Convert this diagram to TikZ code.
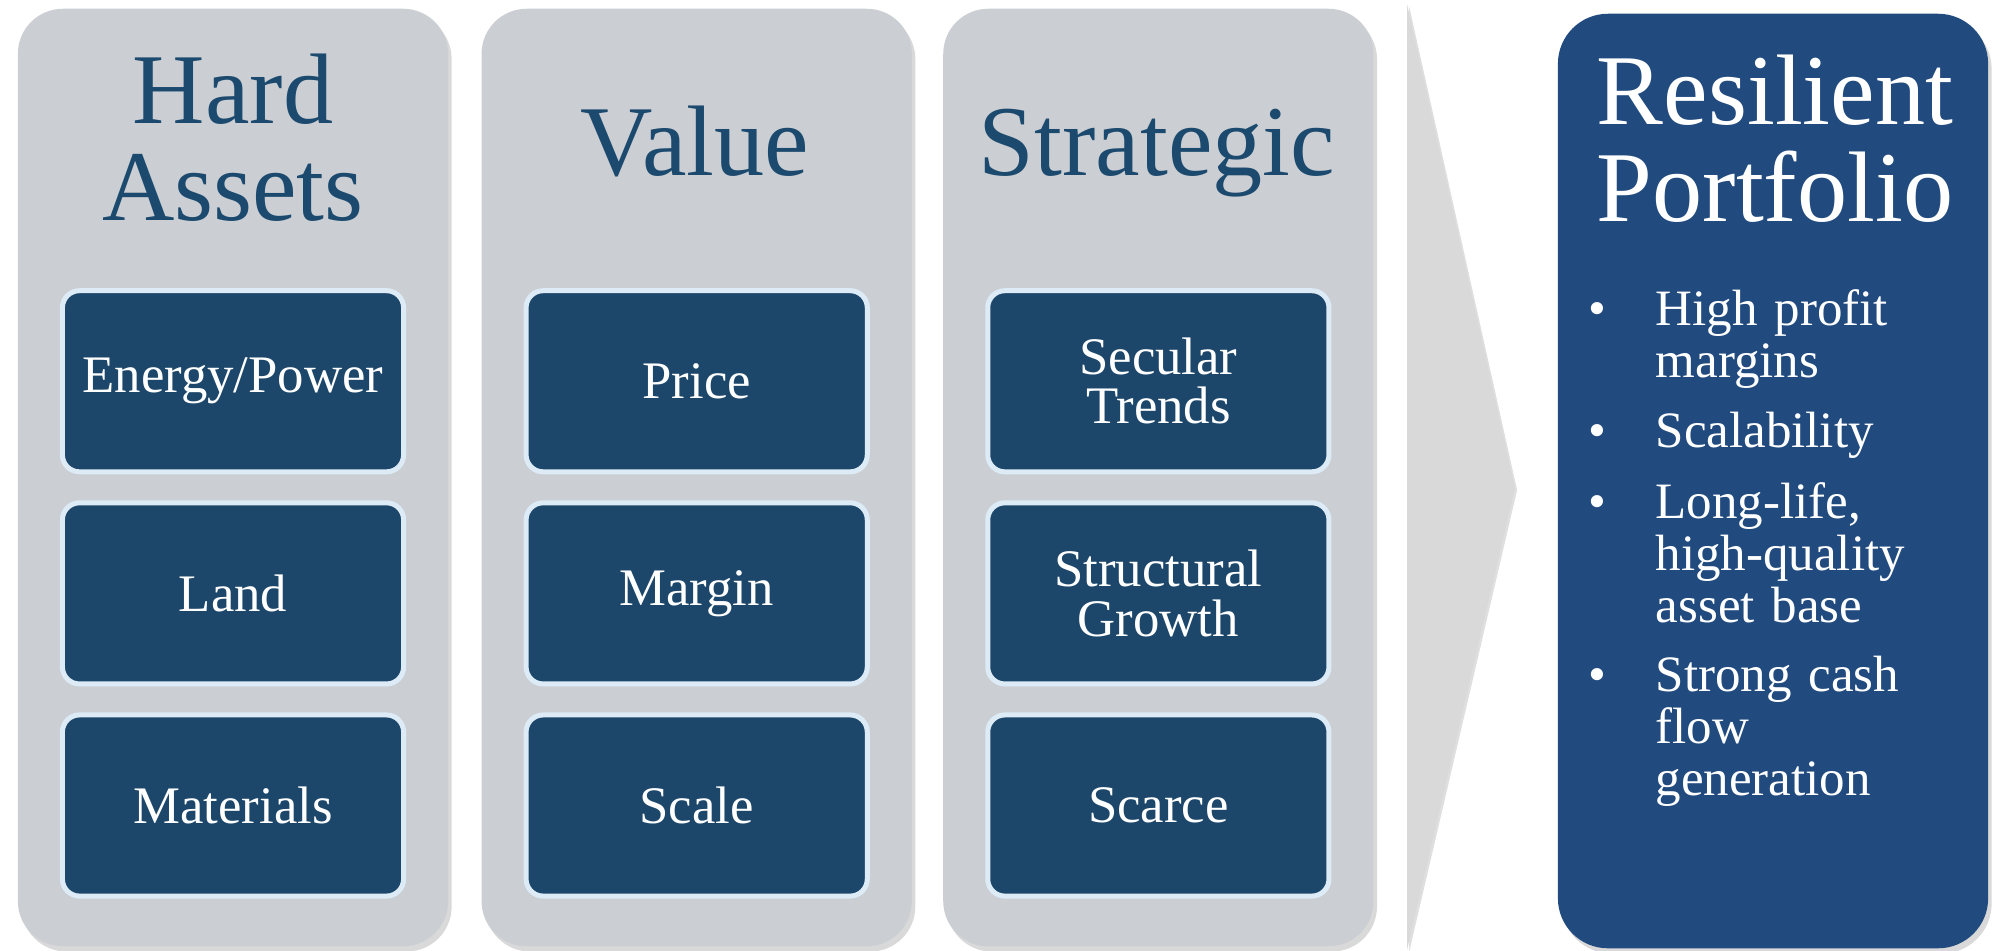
\documentclass[tikz,border=0pt]{standalone}
\usepackage{fontspec}
\setmainfont{Liberation Serif}
\usetikzlibrary{positioning, shadows}
\definecolor{colgray}{HTML}{CBCED3}
\definecolor{tilefill}{HTML}{1C476A}
\definecolor{tileline}{HTML}{DDEBF7}
\definecolor{headblue}{HTML}{1C4A6E}
\definecolor{panelblue}{HTML}{214A7E}
\definecolor{chevgray}{HTML}{D9D9D9}
\newcommand{\BulletMark}{\llap{\textbullet\hspace{0.49cm}}}
\tikzset{
    softshadow/.style={drop shadow={shadow xshift=1pt, shadow yshift=-1.5pt, opacity=0.3}},
    column/.style={rounded corners=0.45cm, fill=colgray, minimum width=4.30cm,
        minimum height=9.37cm, inner sep=0pt, softshadow},
    tile/.style={rounded corners=0.17cm, fill=tilefill, draw=tileline, line width=0.05cm,
        minimum width=3.41cm, minimum height=1.81cm, inner sep=0pt, align=center,
        text=white, font=\fontsize{15}{14}\selectfont},
    heading/.style={inner sep=0pt, align=center, text=headblue,
        font=\fontsize{28.5}{27.5}\selectfont},
    panel/.style={rounded corners=0.5cm, fill=panelblue, minimum width=4.30cm,
        minimum height=9.34cm, inner sep=0pt, softshadow},
    point/.style={inner sep=0pt, anchor=base west, text width=3.2cm, align=left,
        text=white, font=\fontsize{14.5}{14.8}\selectfont},
}
\begin{document}
\begin{tikzpicture}[x=0.01cm, y=-0.01cm]
    \useasboundingbox (0,0) rectangle (1997,950);

    % three columns
    \node[column] (hard) at (233, 477.5) {};
    \node[column, right=0.32cm of hard] (value) {};
    \node[column, right=0.30cm of value] (strategic) {};

    \node[heading, anchor=south] (hardtitle) at (233, 222) {Hard\\Assets};
    \node[heading, anchor=base] (valuetitle) at (695, 175) {Value};
    \node[heading, anchor=base] (strategictitle) at (1157, 175) {Strategic};

    \node[tile, below=2.80cm of hard.north] (energy) {Energy/Power};
    \node[tile, below=0.26cm of energy] (land) {Land};
    \node[tile, below=0.26cm of land] (materials) {Materials};

    \node[tile, below=2.80cm of value.north] (price) {Price};
    \node[tile, below=0.26cm of price] (margin) {Margin};
    \node[tile, below=0.26cm of margin] (scale) {Scale};

    \node[tile, below=2.80cm of strategic.north] (secular) {Secular\\Trends};
    \node[tile, below=0.26cm of secular] (structural) {Structural\\Growth};
    \node[tile, below=0.26cm of structural] (scarce) {Scarce};

    % chevron
    \fill[chevgray, drop shadow={shadow xshift=0.6pt, shadow yshift=-0.6pt, opacity=0.25}]
        (1407, 4) -- (1515, 488) -- (1407, 950) -- cycle;

    % result
    \node[panel] (resilient) at (1773, 481) {};
    \node[heading, text=white, anchor=south] (resilienttitle) at (1775, 223) {Resilient\\Portfolio};

    \node[point] (p1) at (1655, 325) {\BulletMark High profit\\margins};
    \node[point] (p2) at (1655, 447) {\BulletMark Scalability};
    \node[point] (p3) at (1655, 518) {\BulletMark Long-life,\\high-quality\\asset base};
    \node[point] (p4) at (1655, 691) {\BulletMark Strong cash\\flow\\generation};
\end{tikzpicture}
\end{document}
